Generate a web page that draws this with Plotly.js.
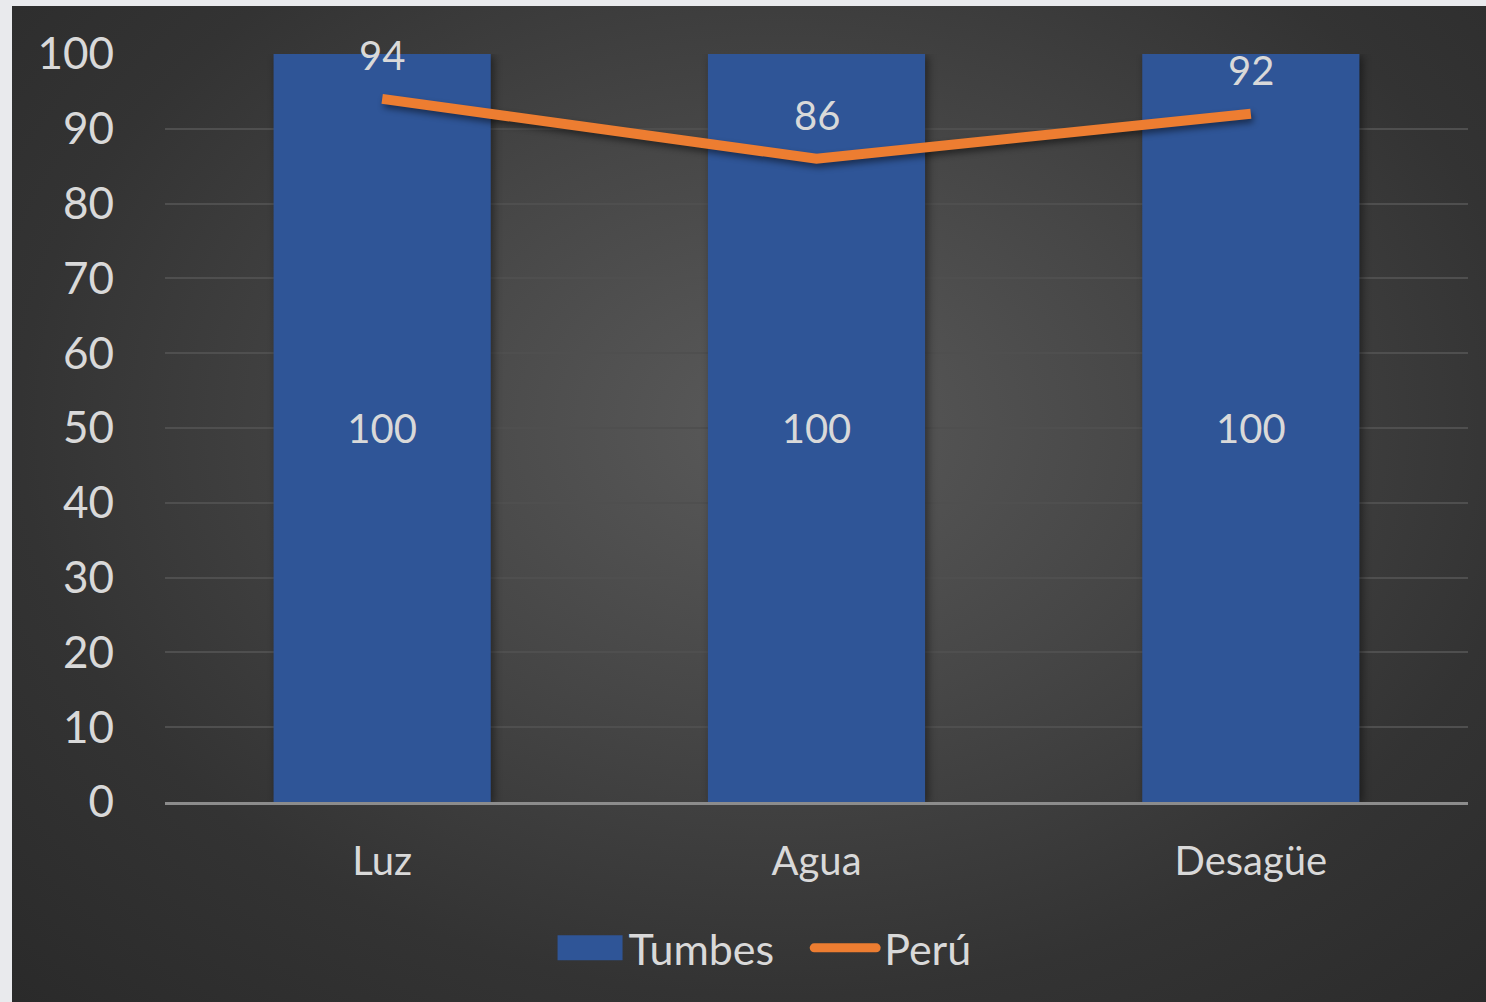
<!DOCTYPE html>
<html><head><meta charset="utf-8">
<script src="https://cdn.plot.ly/plotly-3.0.1.min.js"></script>
<style>
html,body{margin:0;padding:0;background:#e9eaed;width:1486px;height:1002px;overflow:hidden;}
#wrap{position:absolute;left:12px;top:6px;width:1474px;height:996px;
background:radial-gradient(ellipse at 52% 42%, #5a5a5a 0%, #474747 35%, #333333 70%, #2a2a2a 100%);}
#chart{width:1474px;height:996px;}
#chart .bars .point path{filter:drop-shadow(3px 2px 4px rgba(0,0,0,0.45));}
#chart .scatterlayer .js-line{filter:drop-shadow(2px 4px 3px rgba(0,0,0,0.45));}
</style></head>
<body><div id="wrap"><div id="chart"></div></div>
<script>
const categories = ["Luz", "Agua", "Desagüe"];
const tumbes = [100, 100, 100];
const peru = [94, 86, 92];
const yTicks = [0, 10, 20, 30, 40, 50, 60, 70, 80, 90, 100];

const txt = '#d9d9d9';
const font = 'Lato, "Open Sans", sans-serif';

const traces = [
  {type:'bar', name:'Tumbes', x:categories, y:tumbes, marker:{color:'#2F5597'},
   width:0.5, text:tumbes.map(String), textposition:'inside', insidetextanchor:'middle',
   textfont:{color:txt, size:40, family:font}, hoverinfo:'none'},
  {type:'scatter', mode:'lines', name:'Perú', x:categories, y:peru,
   line:{color:'#ED7D31', width:10}, hoverinfo:'none'}
];

const annotations = categories.map((c,i)=>({x:c, y:peru[i], xref:'x', yref:'y',
  text:String(peru[i]), showarrow:false, yanchor:'bottom', yshift:18,
  font:{color:txt, size:40, family:font}}));

const layout = {
  width:1474, height:996,
  margin:{l:153, r:18, t:48, b:200},
  paper_bgcolor:'rgba(0,0,0,0)', plot_bgcolor:'rgba(0,0,0,0)',
  showlegend:true,
  legend:{orientation:'h', x:0.449, xanchor:'center', y:-0.195, yanchor:'middle',
    font:{color:txt, size:43, family:font}, itemwidth:95, tracegroupgap:0, traceorder:'normal',
    bgcolor:'rgba(0,0,0,0)'},
  xaxis:{type:'category', showgrid:false, zeroline:false, showline:true, linecolor:'#8c8c8c', linewidth:3,
    ticks:'', ticklabelstandoff:22, tickfont:{color:txt, size:40, family:font}, fixedrange:true},
  yaxis:{range:[0,100], tickvals:yTicks, ticktext:yTicks.map(String), showgrid:true, gridcolor:'#4f4f4f', gridwidth:2,
    zeroline:false, showline:false, ticks:'', ticklabelstandoff:50,
    tickfont:{color:txt, size:44, family:font}, fixedrange:true},
  annotations:annotations,
  bargap:0.5
};
Plotly.newPlot('chart', traces, layout, {displayModeBar:false, staticPlot:true}).then(gd=>{
  const groups = gd.querySelectorAll('.legend .traces');
  groups.forEach((g,i)=>{
    const t = g.querySelector('text.legendtext');
    const tx = parseFloat(t.getAttribute('x'));
    if(i===0){
      const p = g.querySelector('.legendpoints path');
      if(p){
        p.setAttribute('transform','translate(0,0)');
        p.setAttribute('d',`M${tx-71},-12.5h65v25h-65z`);
        p.style.strokeWidth='0';
      }
    } else {
      const p = g.querySelector('.legendlines path');
      if(p){
        p.setAttribute('d',`M${tx-70},0h62`);
        p.style.strokeWidth='9px';
        p.style.strokeLinecap='round';
      }
    }
  });
});
</script></body></html>
